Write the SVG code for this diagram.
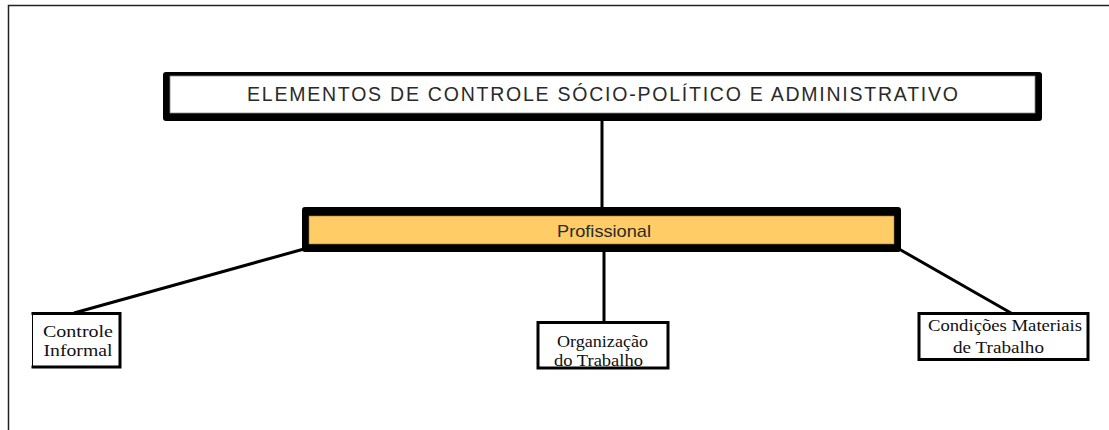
<svg xmlns="http://www.w3.org/2000/svg" width="1109" height="430" viewBox="0 0 1109 430">
<style>
.sans{font-family:"Liberation Sans",Arial,sans-serif;fill:#2a2a2a}
.serif{font-family:"Liberation Serif","Times New Roman",serif;font-size:16px;fill:#111}
.conn{stroke:#000;stroke-width:3;fill:none}
.thin{fill:#fff;stroke:#000;stroke-width:1}
.heavy{stroke:#000;stroke-width:3;fill:none;stroke-linecap:square}
</style>
<rect width="1109" height="430" fill="#fff"/>
<path d="M8.5 430 V5.5 H1109" fill="none" stroke="#222" stroke-width="1.5"/>
<g id="connectors">
<line class="conn" x1="602" y1="120" x2="602" y2="208"/>
<line class="conn" x1="604" y1="251" x2="604" y2="322"/>
<line class="conn" x1="304" y1="249" x2="74" y2="313"/>
<line class="conn" x1="899" y1="249" x2="1011" y2="313"/>
</g>
<g id="node-top">
<rect x="163" y="72" width="879" height="49" rx="3" fill="#000"/>
<rect x="170" y="76" width="865" height="37" fill="#fff" stroke="#888" stroke-width="0.8"/>
<text class="sans" x="602.5" y="101" font-size="19.5" text-anchor="middle" textLength="711" lengthAdjust="spacing">ELEMENTOS DE CONTROLE SÓCIO-POLÍTICO E ADMINISTRATIVO</text>
</g>
<g id="node-profissional">
<rect x="302" y="207" width="599" height="45" rx="3" fill="#000"/>
<rect x="309" y="216" width="585" height="28" fill="#FFCC66" stroke="#9a7a30" stroke-width="0.6"/>
<text class="sans" x="604" y="236.5" font-size="17" text-anchor="middle" textLength="94" lengthAdjust="spacingAndGlyphs">Profissional</text>
</g>
<g id="node-controle">
<rect class="thin" x="32.5" y="313.5" width="88" height="54"/>
<path class="heavy" d="M33 313.5 H120 V367 H33"/>
<text class="serif" x="78" y="337" text-anchor="middle" textLength="70" lengthAdjust="spacingAndGlyphs">Controle</text>
<text class="serif" x="78" y="355.5" text-anchor="middle" textLength="69" lengthAdjust="spacingAndGlyphs">Informal</text>
</g>
<g id="node-organizacao">
<rect class="thin" x="537.5" y="322.5" width="131" height="46"/>
<path class="heavy" d="M538 322.5 H668 V368 H538 Z"/>
<text class="serif" x="602.5" y="347" text-anchor="middle" textLength="91" lengthAdjust="spacingAndGlyphs">Organização</text>
<text class="serif" x="598.5" y="365.5" text-anchor="middle" textLength="89" lengthAdjust="spacingAndGlyphs">do Trabalho</text>
</g>
<g id="node-condicoes">
<rect class="thin" x="918.5" y="313.5" width="170" height="46"/>
<path class="heavy" d="M919 313.5 H1088 V359.5 H919 Z"/>
<text class="serif" x="1005" y="331" text-anchor="middle" textLength="154" lengthAdjust="spacingAndGlyphs">Condições Materiais</text>
<text class="serif" x="998.5" y="353" text-anchor="middle" textLength="91" lengthAdjust="spacingAndGlyphs">de Trabalho</text>
</g>
</svg>
